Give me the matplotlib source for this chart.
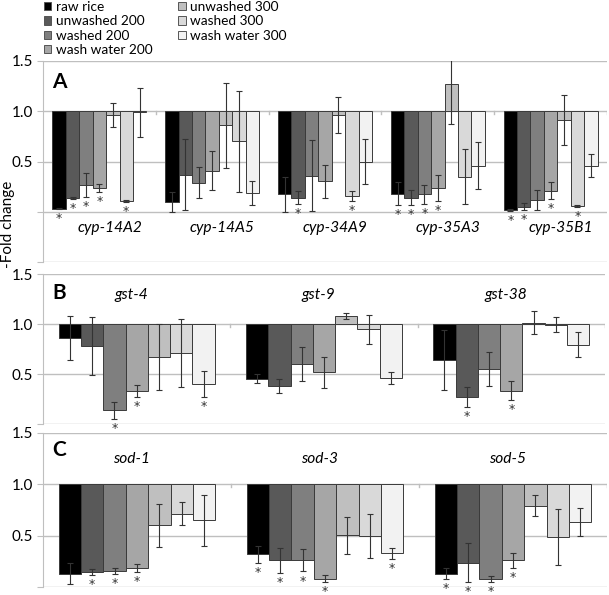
import numpy as np
import matplotlib
matplotlib.use('Agg')
import matplotlib.pyplot as plt
from matplotlib.patches import Patch

plt.rcParams['font.family'] = ['Lato', 'DejaVu Sans']

################################################################################
# Data (fold change relative to control, bars hang from 1.0)
treatments = ['raw rice', 'unwashed 200', 'washed 200', 'wash water 200',
              'unwashed 300', 'washed 300', 'wash water 300']
colors = ['#000000', '#595959', '#7f7f7f', '#a6a6a6', '#bfbfbf', '#d9d9d9', '#f2f2f2']

# Panel A
genes_a = ['cyp-14A2', 'cyp-14A5', 'cyp-34A9', 'cyp-35A3', 'cyp-35B1']
vals_a = [[0.03, 0.14, 0.27, 0.24, 0.96, 0.11, 0.99],
          [0.10, 0.37, 0.29, 0.41, 0.86, 0.70, 0.19],
          [0.175, 0.14, 0.36, 0.305, 0.96, 0.16, 0.50],
          [0.18, 0.14, 0.175, 0.24, 1.275, 0.35, 0.46],
          [0.02, 0.05, 0.115, 0.21, 0.91, 0.056, 0.46]]
errs_a = [[0.005, 0.01, 0.12, 0.04, 0.12, 0.01, 0.245],
          [0.10, 0.35, 0.155, 0.19, 0.42, 0.50, 0.12],
          [0.175, 0.065, 0.355, 0.165, 0.18, 0.05, 0.22],
          [0.115, 0.075, 0.095, 0.13, 0.40, 0.27, 0.23],
          [0.01, 0.035, 0.10, 0.085, 0.25, 0.01, 0.11]]
stars_a = [[1, 1, 1, 1, 0, 1, 0],
           [0, 0, 0, 0, 0, 0, 0],
           [0, 1, 0, 0, 0, 1, 0],
           [1, 1, 1, 1, 0, 0, 0],
           [1, 1, 0, 1, 0, 1, 0]]

# Panel B
genes_b = ['gst-4', 'gst-9', 'gst-38']
vals_b = [[0.86, 0.78, 0.14, 0.327, 0.67, 0.71, 0.40],
          [0.453, 0.377, 0.597, 0.517, 1.083, 0.95, 0.457],
          [0.643, 0.27, 0.55, 0.333, 1.013, 0.993, 0.793]]
errs_b = [[0.22, 0.29, 0.085, 0.06, 0.33, 0.34, 0.13],
          [0.045, 0.07, 0.17, 0.155, 0.03, 0.145, 0.06],
          [0.30, 0.10, 0.173, 0.095, 0.117, 0.073, 0.123]]
stars_b = [[0, 0, 1, 1, 0, 0, 1],
           [0, 0, 0, 0, 0, 0, 0],
           [0, 1, 0, 1, 0, 0, 0]]

# Panel C
genes_c = ['sod-1', 'sod-3', 'sod-5']
vals_c = [[0.131, 0.144, 0.154, 0.187, 0.60, 0.715, 0.65],
          [0.318, 0.259, 0.259, 0.082, 0.505, 0.498, 0.328],
          [0.131, 0.236, 0.082, 0.259, 0.793, 0.489, 0.63]]
errs_c = [[0.10, 0.028, 0.028, 0.04, 0.213, 0.11, 0.25],
          [0.08, 0.125, 0.108, 0.033, 0.18, 0.216, 0.055],
          [0.05, 0.19, 0.03, 0.07, 0.10, 0.27, 0.135]]
stars_c = [[0, 1, 1, 1, 0, 0, 0],
           [1, 1, 1, 1, 0, 0, 1],
           [1, 1, 1, 1, 0, 0, 0]]

################################################################################
# Layout helpers (pixel based)
W, H = 609, 595
fig = plt.figure(figsize=(W / 100, H / 100), dpi=100)
grid_col = '#bfbfbf'


def px_axes(left, top, right, bottom):
    return fig.add_axes([left / W, 1 - bottom / H, (right - left) / W, (bottom - top) / H])


def draw_panel(ax, genes, vals, errs, stars, ylim, yticks, label_y, label_dx):
    n = len(genes)
    w = 0.119
    ax.set_xlim(0, n)
    ax.set_ylim(*ylim)
    for t in yticks:
        ax.axhline(t, color=grid_col, lw=1.0, zorder=0)
    for j in range(7):
        x = np.arange(n) + 0.5 + (j - 3) * w
        v = np.array([vals[i][j] for i in range(n)])
        e = np.array([errs[i][j] for i in range(n)])
        ax.bar(x, v - 1.0, bottom=1.0, width=w, color=colors[j],
               edgecolor='#3a3a3a', linewidth=0.7, zorder=2)
        ax.errorbar(x, v, yerr=e, fmt='none', ecolor='#333333',
                    elinewidth=0.8, capsize=2.2, capthick=0.8, zorder=3)
        for i in range(n):
            if stars[i][j]:
                # asterisk a few pixels below the lower error cap
                ax.annotate('*', (x[i], v[i] - e[i]), xytext=(0, -9.5),
                            textcoords='offset points', ha='center', va='baseline',
                            fontsize=9, family='DejaVu Sans', color='#333333',
                            annotation_clip=False, zorder=4)
    # category boundary ticks on the 1.0 axis
    for k in range(1, n + 1):
        ax.plot([k, k], [1.0, 0.975], color=grid_col, lw=1.0, zorder=1)
    for i, g in enumerate(genes):
        ax.text(i + 0.5 + label_dx, label_y, g, ha='center', va='center',
                style='italic', fontsize=11.2)
    ax.set_yticks(yticks)
    ax.set_yticklabels(['%.1f' % t if t >= 0.5 else '' for t in yticks], fontsize=11)
    ax.set_xticks([])
    for s in ['top', 'right', 'bottom']:
        ax.spines[s].set_visible(False)
    ax.spines['left'].set_color(grid_col)
    ax.tick_params(axis='y', length=4, color=grid_col, pad=3)


ax_a = px_axes(43, 61, 607, 262)
draw_panel(ax_a, genes_a, vals_a, errs_a, stars_a, (-0.5, 1.5),
           [-0.5, 0.0, 0.5, 1.0, 1.5], -0.16, 0.09)

ax_b = px_axes(43, 274, 605, 424)
draw_panel(ax_b, genes_b, vals_b, errs_b, stars_b, (0.0, 1.5),
           [0.0, 0.5, 1.0, 1.5], 1.29, -0.03)

ax_c = px_axes(43, 433, 607, 587)
draw_panel(ax_c, genes_c, vals_c, errs_c, stars_c, (0.0, 1.5),
           [0.0, 0.5, 1.0, 1.5], 1.25, -0.03)

# Panel letters
for letter, ypx in [('A', 82), ('B', 293), ('C', 450)]:
    fig.text(52 / W, 1 - ypx / H, letter, fontsize=15, fontweight='bold',
             ha='left', va='center')

# Y label
fig.text(8 / W, 1 - 224 / H, '-Fold change', rotation=90, fontsize=11,
         ha='center', va='center')

# Legend
handles = [Patch(facecolor=c, edgecolor='#555555', linewidth=0.7) for c in colors]
fig.legend(handles, treatments, loc='upper left', ncol=2, frameon=False,
           bbox_to_anchor=(44 / W, 1 - 1 / H), fontsize=9.8,
           handlelength=0.55, handleheight=0.55, handletextpad=0.35,
           columnspacing=1.85, labelspacing=0.17, borderpad=0.0, borderaxespad=0.0)

fig.savefig('out.png', dpi=100)
